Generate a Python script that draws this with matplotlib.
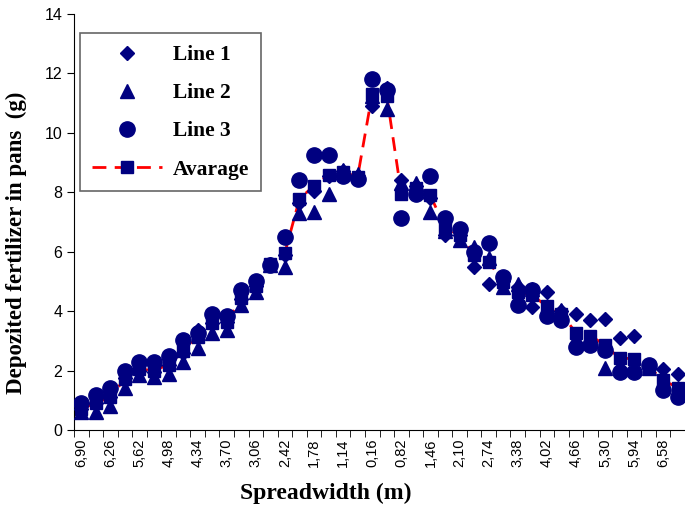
import matplotlib.pyplot as plt
import numpy as np

# spread width positions (categories), left half going in, right half going out
positions = ['6,90', '6,58', '6,26', '5,94', '5,62', '5,30', '4,98', '4,66', '4,34', '4,02',
             '3,70', '3,38', '3,06', '2,74', '2,42', '2,10', '1,78', '1,46', '1,14', '0,48',
             '0,16', '0,50', '0,82', '1,14', '1,46', '1,78', '2,10', '2,42', '2,74', '3,06',
             '3,38', '3,70', '4,02', '4,34', '4,66', '4,98', '5,30', '5,62', '5,94', '6,26',
             '6,58', '6,90']

line1 = [0.70, 0.90, 1.10, 1.75, 2.00, 1.95, 2.20, 2.60, 3.35, 3.60,
         3.65, 4.40, 4.85, 5.60, 5.90, 7.65, 8.05, 8.55, 8.70, 8.55,
         10.90, 11.50, 8.40, 8.20, 7.80, 6.55, 6.55, 5.50, 4.92, 5.00,
         4.80, 4.15, 4.65, 4.00, 3.90, 3.70, 3.75, 3.10, 3.15, 2.10,
         2.05, 1.90]
line2 = [0.60, 0.62, 0.80, 1.40, 1.85, 1.80, 1.90, 2.30, 2.75, 3.25,
         3.35, 4.20, 4.65, 5.55, 5.50, 7.30, 7.35, 7.95, 8.75, 8.60,
         11.25, 10.80, 8.30, 8.30, 7.35, 6.70, 6.40, 6.15, 5.80, 4.80,
         4.90, 4.75, 4.00, 4.05, 3.10, 3.00, 2.10, 2.20, 2.10, 2.10,
         1.60, 1.30]
line3 = [0.90, 1.18, 1.42, 2.00, 2.28, 2.28, 2.50, 3.02, 3.25, 3.92,
         3.85, 4.70, 5.00, 5.55, 6.50, 8.40, 9.25, 9.25, 8.55, 8.45,
         11.80, 11.45, 7.15, 7.95, 8.55, 7.15, 6.75, 6.00, 6.30, 5.15,
         4.20, 4.70, 3.85, 3.70, 2.80, 2.85, 2.70, 1.95, 1.95, 2.20,
         1.35, 1.10]
avarage = [0.72, 0.90, 1.12, 1.72, 2.05, 2.00, 2.20, 2.65, 3.12, 3.60,
           3.62, 4.43, 4.83, 5.57, 5.97, 7.78, 8.22, 8.58, 8.67, 8.53,
           11.32, 11.25, 7.95, 8.15, 7.90, 6.80, 6.57, 5.88, 5.67, 4.98,
           4.63, 4.53, 4.17, 3.92, 3.27, 3.18, 2.85, 2.42, 2.40, 2.13,
           1.67, 1.43]

navy = '#000080'
x = np.arange(len(positions))

fig = plt.figure(figsize=(6.85, 5.12), dpi=100)
ax = fig.add_axes([74/685, 82/512, 1 - 74/685, 416/512])

# average first so the markers sit on top of the dashed line
ax.plot(x, avarage, color='red', linestyle=(0, (5, 3)), linewidth=2,
        marker='s', markersize=8, markerfacecolor=navy, markeredgecolor=navy,
        label='Avarage', zorder=2)
ax.plot(x, line1, linestyle='none', marker='D', markersize=7, color=navy, label='Line 1', zorder=3)
ax.plot(x, line2, linestyle='none', marker='^', markersize=10, color=navy, label='Line 2', zorder=3)
ax.plot(x, line3, linestyle='none', marker='o', markersize=11, color=navy, label='Line 3', zorder=3)

ax.set_xlim(-0.5, 41.3)
ax.set_ylim(0, 14)
ax.spines['top'].set_visible(False)
ax.spines['right'].set_visible(False)

# tick marks between categories, labels on every second category
ax.set_xticks(np.arange(-0.5, len(positions), 1), minor=True)
ax.set_xticks(x[::2])
ax.set_xticklabels(positions[::2], rotation=90, fontsize=10.5, family='Liberation Sans')
ax.tick_params(axis='x', which='major', length=0, pad=6)
ax.tick_params(axis='x', which='minor', length=5, direction='out')
ax.set_yticks(range(0, 15, 2))
ax.tick_params(axis='y', length=5, direction='out', labelsize=11.5)
for t in ax.get_yticklabels():
    t.set_family('Liberation Sans')

ax.set_xlabel('Spreadwidth (m)', fontsize=17, fontweight='bold', family='Liberation Serif')
ax.xaxis.set_label_coords(0.412, -0.127)
ax.set_ylabel('Depozited fertilizer in pans  (g)', fontsize=16.5, fontweight='bold',
              family='Liberation Serif')
ax.yaxis.set_label_coords(-0.077, 0.45)

h, l = ax.get_legend_handles_labels()
order = [1, 2, 3, 0]
leg = ax.legend([h[i] for i in order], [l[i] for i in order], loc='upper left',
                bbox_to_anchor=(0.0098, 0.954), borderaxespad=0, fancybox=False,
                edgecolor='#404040',
                prop={'family': 'Liberation Serif', 'weight': 'bold', 'size': 15.5},
                handlelength=3.25, labelspacing=0.84, borderpad=0.55, handletextpad=0.5)
leg.get_frame().set_linewidth(1.2)

fig.savefig('out.png', dpi=100)
